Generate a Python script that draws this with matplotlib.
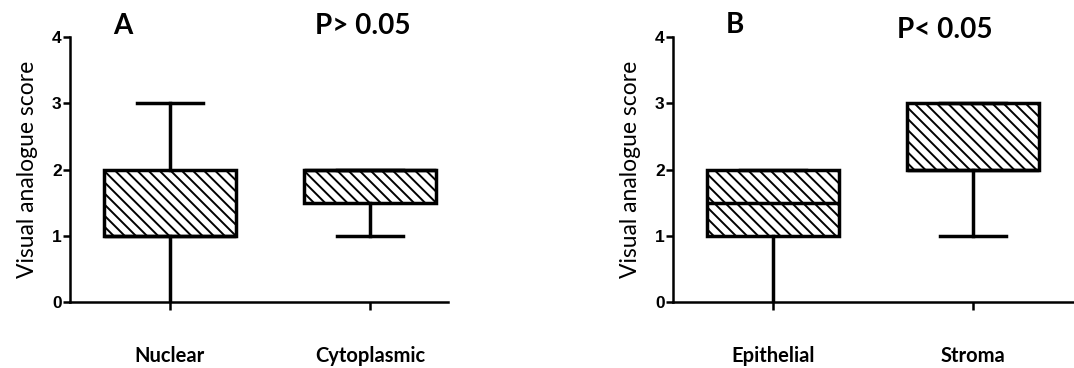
import matplotlib.pyplot as plt

plt.rcParams.update({
    'font.family': ['Lato', 'DejaVu Sans'],
    'hatch.linewidth': 1.4,
    'hatch.color': 'black',
})

# Panel A
groups_a = ['Nuclear', 'Cytoplasmic']
a_whislo = [0, 1]
a_q1 = [1, 1.5]
a_med = [1, 2]
a_q3 = [2, 2]
a_whishi = [3, 2]

# Panel B
groups_b = ['Epithelial', 'Stroma']
b_whislo = [0, 1]
b_q1 = [1, 2]
b_med = [1.5, 2]
b_q3 = [2, 3]
b_whishi = [2, 3]

y_ticks = [0, 1, 2, 3, 4]


def make_stats(labels, lo, q1, med, q3, hi):
    return [dict(label=l, whislo=a, q1=b, med=c, q3=d, whishi=e, fliers=[])
            for l, a, b, c, d, e in zip(labels, lo, q1, med, q3, hi)]


def draw_panel(ax, stats, xmax):
    lw = 2.5
    bp = ax.bxp(stats, positions=[1, 2], widths=0.66, capwidths=0.33,
                patch_artist=True, showfliers=False,
                boxprops=dict(facecolor='white', edgecolor='black', linewidth=lw, hatch='\\\\\\'),
                medianprops=dict(color='black', linewidth=lw),
                whiskerprops=dict(color='black', linewidth=lw),
                capprops=dict(color='black', linewidth=lw))
    # caps sitting on the x axis are not drawn in the original
    for cap in bp['caps']:
        if cap.get_ydata()[0] == 0:
            cap.set_visible(False)
    ax.set_xlim(0.5, xmax)
    ax.set_ylim(0, 4)
    ax.set_yticks(y_ticks)
    ax.set_yticklabels([str(t) for t in y_ticks], fontfamily='Liberation Sans',
                       fontweight='bold', fontsize=12.5)
    ax.set_xticks([1, 2])
    ax.set_xticklabels([s['label'] for s in stats], fontweight='bold', fontsize=14.5)
    for s in ['top', 'right']:
        ax.spines[s].set_visible(False)
    for s in ['left', 'bottom']:
        ax.spines[s].set_linewidth(1.8)
        ax.spines[s].set_clip_on(False)
    ax.tick_params(axis='y', direction='out', length=5, width=1.8, pad=1)
    ax.tick_params(axis='x', direction='out', length=6, width=1.8, pad=26)
    ax.set_ylabel('Visual analogue score', fontsize=16.5, labelpad=10)
    return bp


fig = plt.figure(figsize=(10.74, 3.68), dpi=100)
ax1 = fig.add_axes([70 / 1074, 66 / 368, 378 / 1074, 265 / 368])
ax2 = fig.add_axes([673 / 1074, 66 / 368, 400 / 1074, 265 / 368])

draw_panel(ax1, make_stats(groups_a, a_whislo, a_q1, a_med, a_q3, a_whishi), 2.39)
draw_panel(ax2, make_stats(groups_b, b_whislo, b_q1, b_med, b_q3, b_whishi), 2.5)

fig.text(123 / 1074, 1 - 26 / 368, 'A', fontsize=20, fontweight='bold', ha='center', va='center')
fig.text(363 / 1074, 1 - 26 / 368, 'P> 0.05', fontsize=20, fontweight='bold', ha='center', va='center')
fig.text(735 / 1074, 1 - 25 / 368, 'B', fontsize=20, fontweight='bold', ha='center', va='center')
fig.text(945 / 1074, 1 - 30 / 368, 'P< 0.05', fontsize=20, fontweight='bold', ha='center', va='center')

fig.savefig('out.png', dpi=100, facecolor='white')
